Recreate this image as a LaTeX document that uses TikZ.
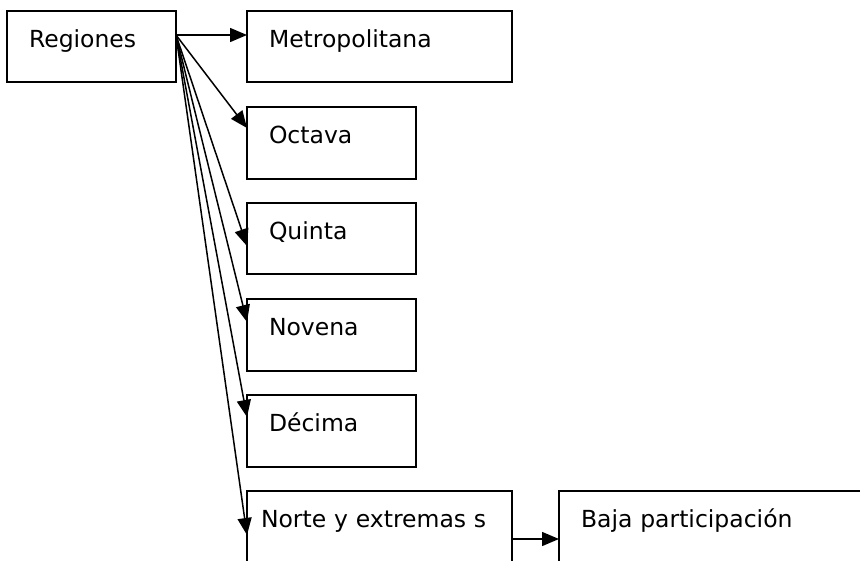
\documentclass[tikz,border=0pt]{standalone}
\usepackage{fontspec}
\setmainfont{DejaVu Sans}
\usetikzlibrary{arrows.meta}

\begin{document}
\begin{tikzpicture}[x=1pt,y=-1pt,
  box/.style={draw,line width=1.7pt,anchor=north west,outer sep=0pt,inner ysep=0pt,inner xsep=22pt,align=left,text height=36pt,font=\fontsize{23.5}{27}\selectfont},
  arr/.style={line width=1.5pt,-{Triangle[length=17pt,width=14pt]}}]
\useasboundingbox (0,0) rectangle (860,560);
\node[box,minimum width=169pt,minimum height=71pt,text width=125pt,text depth=35pt] (regiones) at (7,11) {Regiones};
\node[box,minimum width=265pt,minimum height=71pt,text width=221pt,text depth=35pt] (metro) at (247,11) {Metropolitana};
\node[box,minimum width=169pt,minimum height=72pt,text width=125pt,text depth=36pt] (octava) at (247,107) {Octava};
\node[box,minimum width=169pt,minimum height=71pt,text width=125pt,text depth=35pt] (quinta) at (247,203) {Quinta};
\node[box,minimum width=169pt,minimum height=72pt,text width=125pt,text depth=36pt] (novena) at (247,299) {Novena};
\node[box,minimum width=169pt,minimum height=72pt,text width=125pt,text depth=36pt] (decima) at (247,395) {Décima};
\node[box,inner xsep=14pt,minimum width=265pt,minimum height=72pt,text width=237pt,text depth=36pt] (norte) at (247,491) {Norte y extremas s};
\node[box,minimum width=330pt,minimum height=72pt,text width=286pt,text depth=36pt] (baja) at (559,491) {Baja participación};
\draw [arr] ([yshift=-24pt]regiones.north east) -- ([yshift=-24pt]metro.north west);
\draw [arr] ([yshift=-24pt]regiones.north east) -- ([yshift=-21pt]octava.north west);
\draw [arr] ([yshift=-24pt]regiones.north east) -- ([yshift=-43pt]quinta.north west);
\draw [arr] ([yshift=-24pt]regiones.north east) -- ([yshift=-23pt]novena.north west);
\draw [arr] ([yshift=-24pt]regiones.north east) -- ([yshift=-22pt]decima.north west);
\draw [arr] ([yshift=-24pt]regiones.north east) -- ([yshift=-44pt]norte.north west);
\draw [arr] ([yshift=-48pt]norte.north east) -- ([yshift=-48pt]baja.north west);
\end{tikzpicture}
\end{document}
